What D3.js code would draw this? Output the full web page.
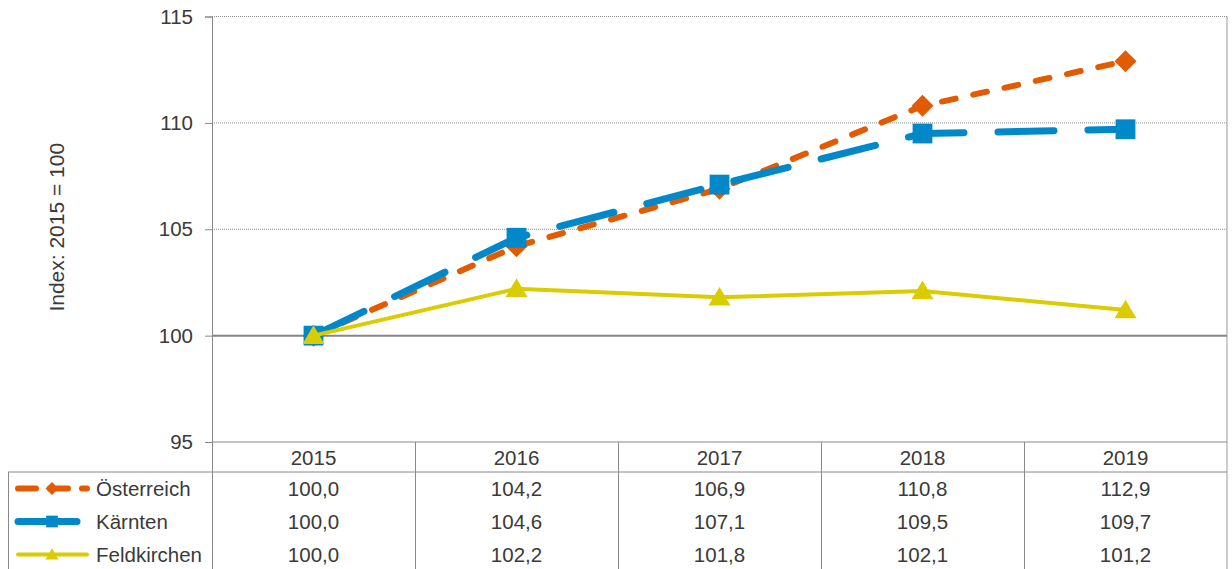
<!DOCTYPE html>
<html>
<head>
<meta charset="utf-8">
<script src="https://cdn.jsdelivr.net/npm/d3@7"></script>
<style>
  body { margin: 0; background: #fff; }
  text { font-family: "Liberation Sans", Arial, sans-serif; fill: #3a3a3a; }
</style>
</head>
<body>
<script>
// data
var years = ["2015", "2016", "2017", "2018", "2019"];
var oesterreich = [100.0, 104.2, 106.9, 110.8, 112.9];
var kaernten = [100.0, 104.6, 107.1, 109.5, 109.7];
var feldkirchen = [100.0, 102.2, 101.8, 102.1, 101.2];
var yTicks = [95, 100, 105, 110, 115];

var series = [
  { name: "Österreich", values: oesterreich, color: "#e35b00", width: 6, dash: "14,18", legendDash: "18,14", marker: "diamond" },
  { name: "Kärnten", values: kaernten, color: "#0088c9", width: 7, dash: "56,34", legendDash: null, marker: "square" },
  { name: "Feldkirchen", values: feldkirchen, color: "#d9cc00", width: 4, dash: null, legendDash: null, marker: "triangle" }
];

var width = 1232, height = 569;
var plotLeft = 212, plotRight = 1227, plotTop = 16.5, plotBottom = 442;
var rowH = 33;

var svg = d3.select("body").append("svg")
    .attr("width", width)
    .attr("height", height);

var x = d3.scaleBand().domain(years).range([plotLeft, plotRight]).padding(0);
var y = d3.scaleLinear().domain([95, 115]).range([plotBottom, plotTop]);
var fmt = function(v) { return d3.format(".1f")(v).replace(".", ","); };

// grid lines
svg.append("g")
  .selectAll("line")
  .data(yTicks.filter(function(d) { return d > 100; }))
  .enter().append("line")
    .attr("x1", plotLeft).attr("x2", plotRight)
    .attr("y1", function(d) { return y(d); })
    .attr("y2", function(d) { return y(d); })
    .attr("stroke", "#8c8c8c")
    .attr("stroke-width", 1)
    .attr("stroke-dasharray", "1,1");

// 100 line
svg.append("line")
    .attr("x1", plotLeft).attr("x2", plotRight)
    .attr("y1", y(100)).attr("y2", y(100))
    .attr("stroke", "#858585")
    .attr("stroke-width", 2);

// y axis
var yAxis = svg.append("g")
    .attr("transform", "translate(" + plotLeft + ",0)")
    .call(d3.axisLeft(y).tickValues(yTicks).tickSize(7).tickPadding(12).tickFormat(d3.format("d")));
yAxis.select(".domain").attr("stroke", "#888");
yAxis.selectAll(".tick line").attr("stroke", "#888");
yAxis.selectAll("text")
    .style("font-family", "Liberation Sans, Arial, sans-serif")
    .style("font-size", "20.5px")
    .attr("fill", "#3a3a3a");

svg.append("text")
    .attr("transform", "translate(64," + ((plotTop + plotBottom) / 2 - 2) + ") rotate(-90)")
    .attr("text-anchor", "middle")
    .style("font-size", "21px")
    .text("Index: 2015 = 100");

// plot borders
svg.append("line")
    .attr("x1", plotLeft).attr("x2", plotRight)
    .attr("y1", plotBottom).attr("y2", plotBottom)
    .attr("stroke", "#888");
svg.append("line")
    .attr("x1", plotRight).attr("x2", plotRight)
    .attr("y1", plotTop).attr("y2", height)
    .attr("stroke", "#999");

// data table
var tableTop = plotBottom + 30;
svg.append("line")
    .attr("x1", 8).attr("x2", plotRight)
    .attr("y1", tableTop).attr("y2", tableTop)
    .attr("stroke", "#888");
svg.append("line")
    .attr("x1", 8.5).attr("x2", 8.5)
    .attr("y1", tableTop).attr("y2", height)
    .attr("stroke", "#888");
svg.append("g")
  .selectAll("line")
  .data(years)
  .enter().append("line")
    .attr("x1", function(d) { return Math.round(x(d)) + 0.5; })
    .attr("x2", function(d) { return Math.round(x(d)) + 0.5; })
    .attr("y1", plotBottom).attr("y2", height)
    .attr("stroke", "#888");

svg.append("g")
  .selectAll("text")
  .data(years)
  .enter().append("text")
    .attr("x", function(d) { return x(d) + x.bandwidth() / 2; })
    .attr("y", plotBottom + 16)
    .attr("dy", "0.35em")
    .attr("text-anchor", "middle")
    .style("font-size", "20.5px")
    .text(function(d) { return d; });

var line = d3.line()
    .x(function(d, i) { return x(years[i]) + x.bandwidth() / 2; })
    .y(function(d) { return y(d); });

function drawMarker(g, type, cx, cy, s, color) {
  if (type === "diamond") {
    g.append("path")
      .attr("d", "M" + cx + "," + (cy - s) + "L" + (cx + s) + "," + cy + "L" + cx + "," + (cy + s) + "L" + (cx - s) + "," + cy + "Z")
      .attr("fill", color);
  } else if (type === "square") {
    g.append("rect")
      .attr("x", cx - s * 0.9).attr("y", cy - s * 0.9)
      .attr("width", s * 1.8).attr("height", s * 1.8)
      .attr("fill", color);
  } else {
    g.append("path")
      .attr("d", "M" + cx + "," + (cy - s * 0.95) + "L" + (cx + s) + "," + (cy + s * 0.75) + "L" + (cx - s) + "," + (cy + s * 0.75) + "Z")
      .attr("fill", color);
  }
}

series.forEach(function(s, k) {
  var g = svg.append("g");
  g.append("path")
      .datum(s.values)
      .attr("d", line)
      .attr("fill", "none")
      .attr("stroke", s.color)
      .attr("stroke-width", s.width)
      .attr("stroke-linecap", "round")
      .attr("stroke-linejoin", "round")
      .attr("stroke-dasharray", s.dash);
  s.values.forEach(function(v, i) {
    drawMarker(g, s.marker, x(years[i]) + x.bandwidth() / 2, y(v), 11, s.color);
  });

  // table row
  var cy = tableTop + rowH / 2 + rowH * k;
  var lg = svg.append("g");
  lg.append("line")
      .attr("x1", 18).attr("x2", s.marker === "square" ? 77 : 87)
      .attr("y1", cy).attr("y2", cy)
      .attr("stroke", s.color)
      .attr("stroke-width", s.width)
      .attr("stroke-linecap", "round")
      .attr("stroke-dasharray", s.legendDash);
  drawMarker(lg, s.marker, 52, cy, 6.5, s.color);
  lg.append("text")
      .attr("x", 96)
      .attr("y", cy)
      .attr("dy", "0.35em")
      .style("font-size", "20.5px")
      .text(s.name);

  svg.append("g")
    .selectAll("text")
    .data(s.values)
    .enter().append("text")
      .attr("x", function(d, i) { return x(years[i]) + x.bandwidth() / 2; })
      .attr("y", cy)
      .attr("dy", "0.35em")
      .attr("text-anchor", "middle")
      .style("font-size", "20.5px")
      .text(function(d) { return fmt(d); });
});
</script>
</body>
</html>
